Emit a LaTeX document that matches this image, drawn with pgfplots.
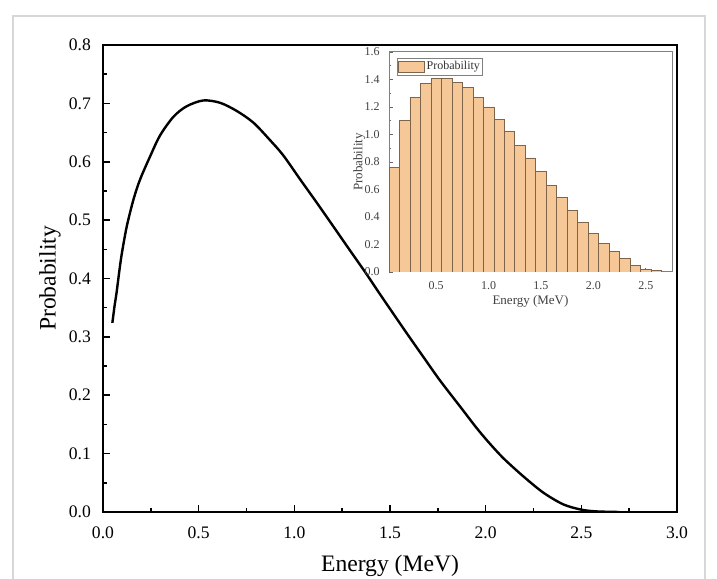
\documentclass[border=0pt]{standalone}
\usepackage{fontspec}
\setmainfont{Liberation Serif}
\usepackage{pgfplots}
\pgfplotsset{compat=1.18}
\definecolor{barfill}{RGB}{246,200,152}
\definecolor{baredge}{RGB}{125,100,75}
\definecolor{outerframe}{RGB}{215,215,215}
\pgfplotstableread{
x y
0.049 0.324
0.060 0.352
0.071 0.376
0.085 0.412
0.098 0.442
0.124 0.489
0.159 0.535
0.193 0.569
0.246 0.609
0.298 0.645
0.368 0.677
0.437 0.695
0.524 0.705
0.612 0.701
0.699 0.687
0.786 0.667
0.873 0.637
0.942 0.611
1.030 0.570
1.117 0.530
1.200 0.491
1.291 0.448
1.370 0.411
1.450 0.372
1.500 0.348
1.588 0.306
1.680 0.263
1.762 0.225
1.875 0.177
1.950 0.145
2.014 0.120
2.093 0.092
2.197 0.061
2.302 0.033
2.406 0.013
2.500 0.004
2.580 0.001
2.700 0.000
}\curvedata
\pgfplotstableread{
x y
0.1 0.76
0.2 1.10
0.3 1.27
0.4 1.37
0.5 1.41
0.6 1.41
0.7 1.38
0.8 1.34
0.9 1.27
1.0 1.20
1.1 1.11
1.2 1.02
1.3 0.92
1.4 0.83
1.5 0.73
1.6 0.63
1.7 0.54
1.8 0.45
1.9 0.36
2.0 0.28
2.1 0.21
2.2 0.15
2.3 0.10
2.4 0.05
2.5 0.02
2.6 0.01
}\histdata
\begin{document}
\begin{tikzpicture}[x=1pt,y=1pt]
\useasboundingbox (0,0) rectangle (358.5,289);
\clip (0,0) rectangle (358.5,289);
\draw[outerframe, line width=0.6pt] (6.5,-5) -- (6.5,281) -- (352.5,281) -- (352.5,-5);
\begin{axis}[
  at={(51.5pt,33pt)}, anchor=south west, scale only axis,
  width=287pt, height=233.5pt,
  xmin=0, xmax=3, ymin=0, ymax=0.8,
  xtick={0,0.5,1,1.5,2,2.5,3},
  ytick={0,0.1,0.2,0.3,0.4,0.5,0.6,0.7,0.8},
  minor x tick num=1, minor y tick num=1,
  tick pos=left, tick align=inside,
  major tick length=3.5pt, minor tick length=2pt,
  axis line style={line width=1pt},
  every tick/.style={black, line width=0.8pt},
  /pgf/number format/fixed,
  /pgf/number format/fixed zerofill,
  /pgf/number format/precision=1,
  /pgf/number format/assume math mode=true,
  tick label style={font=\fontsize{8.8}{10}\selectfont},
  yticklabel style={xshift=-2.5pt},
  xticklabel style={yshift=-4pt},
  xlabel={Energy (MeV)}, ylabel={Probability},
  every axis x label/.style={at={(axis description cs:0.5,-0.1156)}, anchor=center, font=\fontsize{11.8}{13}\selectfont},
  every axis y label/.style={at={(axis description cs:-0.0923,0.5)}, anchor=center, rotate=90, font=\fontsize{11.8}{13}\selectfont},
]
\addplot[black, line width=1.2pt, smooth, tension=0.5] table[x=x,y=y] {\curvedata};
\end{axis}
\begin{axis}[
  at={(194.5pt,153pt)}, anchor=south west, scale only axis,
  width=141.5pt, height=110pt,
  xmin=0.05, xmax=2.75, ymin=0, ymax=1.6,
  xtick={0.5,1,1.5,2,2.5},
  ytick={0,0.2,0.4,0.6,0.8,1.0,1.2,1.4,1.6},
  minor x tick num=1, minor y tick num=1,
  tick pos=left, tick align=inside,
  major tick length=2pt, minor tick length=1.2pt,
  axis line style={gray, line width=0.5pt},
  every tick/.style={gray!80!black, line width=0.4pt},
  /pgf/number format/fixed,
  /pgf/number format/fixed zerofill,
  /pgf/number format/precision=1,
  /pgf/number format/assume math mode=true,
  tick label style={font=\fontsize{6}{7}\selectfont, text=black!75},
  yticklabel style={xshift=-1.2pt},
  xticklabel style={yshift=-1.2pt},
  xlabel={Energy (MeV)}, ylabel={Probability},
  every axis x label/.style={at={(axis description cs:0.5,-0.135)}, anchor=center, font=\fontsize{6.5}{7}\selectfont, text=black!75},
  every axis y label/.style={at={(axis description cs:-0.105,0.5)}, anchor=center, rotate=90, font=\fontsize{6.5}{7}\selectfont, text=black!75},
  legend style={at={(rel axis cs:0,1)}, anchor=north west, xshift=4pt, yshift=-3pt,
    draw=gray, line width=0.4pt, font=\fontsize{6}{7}\selectfont, text=black!80,
    inner sep=0.5pt, row sep=0pt, nodes={inner sep=0.8pt}},
  legend image code/.code={\draw[#1] (0pt,-2.6pt) rectangle (13pt,2.6pt);},
]
\addplot[ybar, bar width=0.1, fill=barfill, draw=baredge, line width=0.3pt] table[x=x,y=y] {\histdata};
\addlegendentry{Probability}
\end{axis}
\end{tikzpicture}
\end{document}
